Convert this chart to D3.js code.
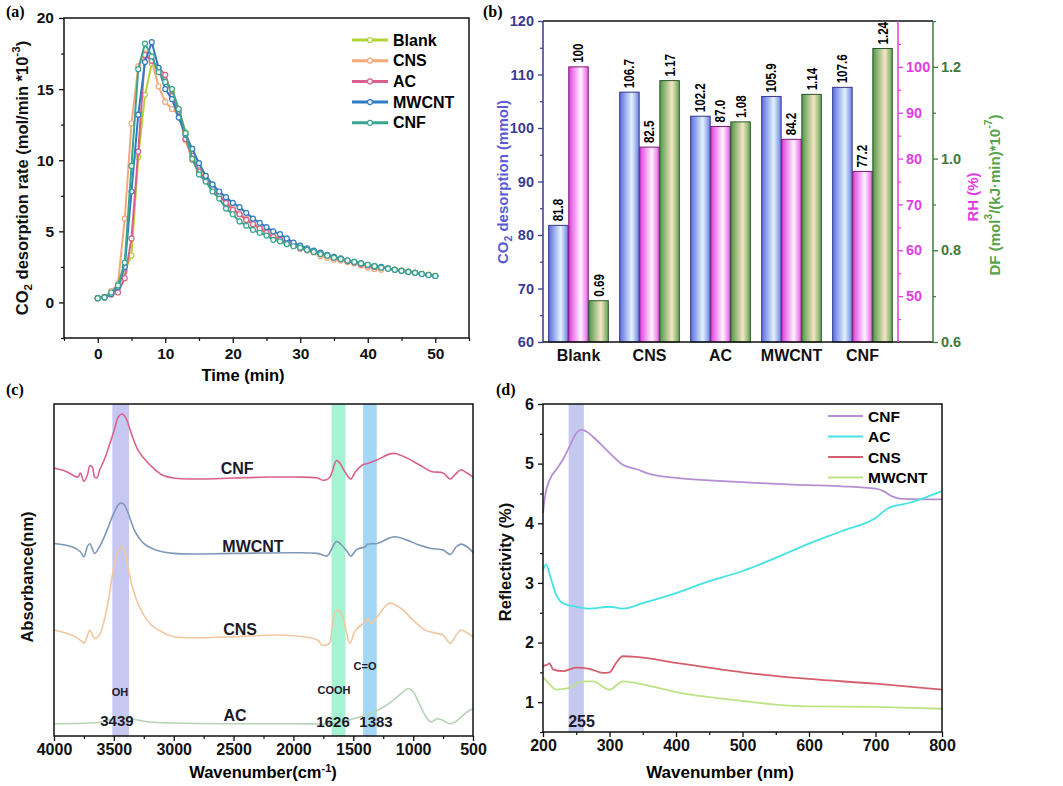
<!DOCTYPE html>
<html>
<head>
<meta charset="utf-8">
<script src="https://cdn.jsdelivr.net/npm/d3@7"></script>
<style>
  body { margin: 0; background: #fff; }
  text { font-family: "Liberation Sans", Arial, sans-serif; font-weight: bold; }
  .plabel { font-family: "Liberation Serif", "Times New Roman", serif; }
</style>
</head>
<body>
<script>
// ---------- (a) CO2 desorption rate vs time ----------
const minutes = d3.range(0, 51);
const rateBlank = [0.3, 0.4, 0.6, 1.0, 2.2, 3.3, 10.2, 14.6, 16.8, 16.3, 15.6, 14.8, 13.6, 12.0, 10.6, 9.6, 8.8, 8.2, 7.6, 7.1,
  6.6, 6.2, 5.8, 5.5, 5.2, 5.0, 4.7, 4.5, 4.3, 4.1, 3.9, 3.75, 3.6, 3.45, 3.3, 3.2, 3.05, 2.95, 2.85, 2.75,
  2.65, 2.55, 2.47, 2.4, 2.32, 2.25, 2.18, 2.1, 2.03, 1.95, 1.88];
const rateCNS = [0.3, 0.4, 0.8, 1.3, 5.9, 12.6, 16.6, 17.5, 17.0, 15.2, 14.1, 13.6, 13.2, 11.4, 10.0, 9.3, 8.7, 8.3, 7.6, 7.0,
  6.6, 6.3, 5.9, 5.6, 5.3, 5.0, 4.7, 4.5, 4.3, 4.0, 3.8, 3.65, 3.5, 3.25, 3.15, 3.0, 2.95, 2.85, 2.75, 2.6,
  2.45, 2.35, 2.3];
const rateAC = [0.3, 0.35, 0.55, 0.7, 1.7, 4.5, 10.6, 17.4, 17.0, 16.5, 16.0, 14.5, 13.4, 11.5, 10.3, 9.2, 8.6, 8.0, 7.5, 7.0,
  6.5, 6.2, 5.8, 5.5, 5.2, 4.9, 4.6, 4.4, 4.2, 4.0, 3.8, 3.7, 3.55, 3.4, 3.3, 3.15, 3.05, 2.9, 2.8, 2.7,
  2.6, 2.5, 2.45, 2.38, 2.3, 2.22, 2.15, 2.08, 2.0, 1.93, 1.86];
const rateMWCNT = [0.3, 0.35, 0.6, 1.1, 2.5, 7.8, 13.2, 16.9, 18.3, 16.5, 15.0, 14.3, 13.0, 11.8, 10.8, 9.8, 8.9, 8.3, 7.8, 7.4,
  7.0, 6.7, 6.3, 5.9, 5.6, 5.3, 5.0, 4.8, 4.5, 4.2, 4.0, 3.8, 3.65, 3.5, 3.35, 3.2, 3.1, 2.95, 2.85, 2.75,
  2.65, 2.55, 2.5, 2.4, 2.3, 2.22, 2.15, 2.08, 2.0, 1.93, 1.86];
const rateCNF = [0.3, 0.35, 0.7, 1.2, 2.8, 9.6, 16.4, 18.2, 17.3, 16.2, 15.5, 15.0, 13.6, 11.9, 10.1, 9.0, 8.5, 7.8, 7.3, 6.6,
  6.2, 5.7, 5.4, 5.1, 4.9, 4.7, 4.4, 4.3, 4.1, 3.95, 3.85, 3.7, 3.55, 3.4, 3.3, 3.15, 3.05, 2.95, 2.85, 2.75,
  2.65, 2.55, 2.45, 2.37, 2.3, 2.22, 2.15, 2.08, 2.0, 1.93, 1.86];
const rateNames = ["Blank", "CNS", "AC", "MWCNT", "CNF"];
const rateColors = ["#b4d334", "#f5a87a", "#d9608e", "#2f7cc4", "#3aa58f"];

// ---------- (b) bars ----------
const sampleNames = ["Blank", "CNS", "AC", "MWCNT", "CNF"];
const co2Desorption = [81.8, 106.7, 102.2, 105.9, 107.6];
const rhPercent = [100, 82.5, 87.0, 84.2, 77.2];
const dfValue = [0.69, 1.17, 1.08, 1.14, 1.24];

// ---------- (c) FTIR ----------
const ftirCNF = [[4000, 80.7], [3900, 79.7], [3800, 78.0], [3780, 79.2], [3750, 76.7], [3720, 78.7], [3700, 81.4], [3680, 81.0],
  [3660, 78.0], [3640, 77.8], [3620, 80.0], [3580, 83.2], [3550, 86.2], [3500, 91.8], [3460, 96.3], [3430, 97.0], [3400, 95.8],
  [3350, 90.7], [3300, 86.2], [3250, 83.7], [3200, 81.7], [3100, 78.7], [3000, 77.7], [2800, 77.4], [2500, 77.7], [2200, 78.0],
  [2000, 78.0], [1800, 77.7], [1750, 77.0], [1700, 77.7], [1680, 79.2], [1640, 83.0], [1610, 82.1], [1580, 80.2], [1540, 78.0],
  [1520, 77.4], [1480, 79.7], [1420, 81.7], [1380, 82.1], [1300, 83.2], [1200, 84.9], [1150, 85.1], [1050, 83.7], [950, 81.7],
  [850, 79.7], [750, 79.2], [690, 77.4], [650, 78.7], [600, 80.2], [550, 79.2], [500, 78.0]];
const ftirMWCNT = [[4000, 58.0], [3850, 57.0], [3780, 55.5], [3750, 54.0], [3720, 57.2], [3700, 57.9], [3660, 55.0], [3620, 57.0],
  [3580, 60.0], [3550, 62.6], [3500, 67.1], [3450, 70.1], [3420, 69.9], [3380, 67.1], [3330, 62.1], [3250, 58.0], [3150, 56.0],
  [3000, 55.0], [2500, 55.0], [2000, 55.2], [1800, 55.0], [1720, 54.2], [1700, 55.0], [1640, 58.6], [1600, 57.6], [1560, 56.0],
  [1520, 54.2], [1470, 56.2], [1400, 57.0], [1380, 57.8], [1300, 58.0], [1200, 59.6], [1150, 60.0], [1050, 59.0], [950, 57.5],
  [850, 56.5], [750, 56.0], [690, 54.7], [640, 57.0], [600, 57.8], [550, 57.0], [500, 55.3]];
const ftirCNS = [[4000, 31.9], [3850, 30.4], [3780, 28.9], [3750, 27.9], [3720, 30.4], [3700, 31.9], [3660, 29.4], [3620, 30.4],
  [3580, 34.9], [3540, 42.0], [3500, 51.0], [3460, 56.0], [3430, 57.0], [3400, 54.0], [3360, 47.0], [3300, 40.0], [3200, 33.9],
  [3100, 31.4], [3000, 29.9], [2500, 29.9], [2100, 30.4], [1800, 28.9], [1760, 27.4], [1700, 27.9], [1680, 31.9], [1640, 37.9],
  [1600, 37.0], [1560, 31.9], [1530, 27.9], [1480, 31.9], [1400, 34.4], [1380, 35.4], [1350, 33.9], [1300, 35.9], [1200, 40.0],
  [1100, 38.4], [1000, 34.9], [900, 31.9], [800, 30.9], [750, 30.4], [690, 27.9], [640, 30.4], [600, 31.9], [550, 31.1], [500, 29.9]];
const ftirAC = [[4000, 3.7], [3700, 3.9], [3600, 4.2], [3500, 5.2], [3430, 5.9], [3350, 5.2], [3200, 4.2], [3000, 3.9], [2500, 3.7],
  [2000, 3.7], [1700, 3.7], [1600, 4.2], [1500, 5.2], [1400, 6.2], [1300, 7.7], [1200, 9.8], [1100, 12.8], [1040, 14.3],
  [1000, 13.3], [950, 9.8], [900, 6.2], [850, 4.2], [800, 5.2], [750, 4.7], [700, 3.7], [650, 4.2], [600, 5.7], [550, 7.2], [500, 8.2]];
const ftirNames = ["CNF", "MWCNT", "CNS", "AC"];
const ftirColors = ["#d9638e", "#7f98b8", "#f3c6a0", "#b7d3b7"];
const ftirBands = [[3513, 3373, "#c6c8f2"], [1682, 1565, "#a6f3d4"], [1418, 1304, "#a3d7f5"]];
const ftirNotes = [["CNF", 2470, 80.5, 16], ["MWCNT", 2338, 57.2, 16], ["CNS", 2446, 32.2, 16], ["AC", 2488, 6.3, 16],
  ["OH", 3449, 13.3, 11], ["COOH", 1661, 13.9, 11], ["C=O", 1402, 21.1, 11],
  ["3439", 3474, 4.8, 15], ["1626", 1669, 4.5, 15], ["1383", 1310, 4.5, 15]];

// ---------- (d) reflectivity ----------
const reflCNF = [[200, 4.17], [203, 4.45], [210, 4.73], [220, 4.9], [230, 5.07], [240, 5.29], [250, 5.51], [258, 5.57], [265, 5.54],
  [280, 5.40], [300, 5.18], [320, 4.98], [340, 4.91], [360, 4.83], [400, 4.76], [450, 4.72], [500, 4.69], [550, 4.66], [600, 4.64],
  [650, 4.62], [700, 4.58], [712, 4.54], [725, 4.45], [740, 4.41], [800, 4.40]];
const reflAC = [[200, 3.22], [205, 3.31], [210, 3.14], [220, 2.80], [230, 2.66], [250, 2.60], [270, 2.57], [300, 2.60], [320, 2.57],
  [350, 2.66], [400, 2.83], [450, 3.03], [500, 3.20], [550, 3.42], [600, 3.66], [650, 3.87], [700, 4.09], [720, 4.26], [750, 4.34],
  [800, 4.54]];
const reflCNS = [[200, 1.61], [205, 1.62], [210, 1.65], [215, 1.55], [230, 1.52], [250, 1.58], [270, 1.56], [290, 1.49], [300, 1.50],
  [310, 1.66], [320, 1.77], [340, 1.76], [400, 1.66], [500, 1.50], [600, 1.39], [700, 1.31], [800, 1.21]];
const reflMWCNT = [[200, 1.42], [210, 1.30], [220, 1.21], [240, 1.24], [260, 1.35], [275, 1.35], [300, 1.21], [320, 1.35], [340, 1.32],
  [400, 1.17], [500, 1.02], [550, 0.96], [600, 0.93], [700, 0.92], [800, 0.89]];
const reflNames = ["CNF", "AC", "CNS", "MWCNT"];
const reflColors = ["#b58fd3", "#45e3e3", "#d4606f", "#bde386"];

const svg = d3.select("body").append("svg").attr("width", 1063).attr("height", 786);

// draws a major/minor tick axis and styles it
function addAxis(orient, scale, majors, minors, fmt, tr, color, fs, pad) {
  const g = svg.append("g").attr("transform", tr)
    .call(d3[orient](scale).tickValues(majors).tickSize(5).tickPadding(pad).tickFormat(fmt));
  g.select(".domain").remove();
  g.selectAll("line").attr("stroke", color).attr("stroke-width", 1.3);
  g.selectAll("text").attr("fill", color).style("font-size", fs + "px");
  if (minors) {
    const m = svg.append("g").attr("transform", tr)
      .call(d3[orient](scale).tickValues(minors).tickSize(3).tickFormat(""));
    m.select(".domain").remove();
    m.selectAll("line").attr("stroke", color).attr("stroke-width", 1.2);
  }
  return g;
}

function frame(x0, y0, x1, y1) {
  svg.append("rect").attr("x", x0).attr("y", y0).attr("width", x1 - x0).attr("height", y1 - y0)
    .attr("fill", "none").attr("stroke", "#111").attr("stroke-width", 1.5);
}

function panelLabel(t, x, y) {
  svg.append("text").attr("class", "plabel").attr("x", x).attr("y", y).style("font-size", "16px").text(t);
}

function vTitle(x, y, fs, color, parts) {
  const t = svg.append("text").attr("transform", `translate(${x},${y}) rotate(-90)`)
    .attr("text-anchor", "middle").attr("dominant-baseline", "central")
    .style("font-size", fs + "px").attr("fill", color);
  parts.forEach(p => {
    const s = t.append("tspan").text(p[0]);
    if (p[1] === "sub") s.attr("baseline-shift", "sub").style("font-size", (fs * 0.7) + "px");
    if (p[1] === "sup") s.attr("baseline-shift", "super").style("font-size", (fs * 0.7) + "px");
  });
  return t;
}

// ================= (a) =================
const xa = d3.scaleLinear().domain([-5, 55]).range([64, 469]);
const ya = d3.scaleLinear().domain([-2.5, 20]).range([338, 18]);

addAxis("axisBottom", xa, [0, 10, 20, 30, 40, 50], [-5, 5, 15, 25, 35, 45, 55], d3.format("d"), "translate(0,338)", "#111", 15.5, 5);
addAxis("axisLeft", ya, [0, 5, 10, 15, 20], [-2.5, 2.5, 7.5, 12.5, 17.5], d3.format("d"), "translate(64,0)", "#111", 15.5, 5);

const rateValues = [rateBlank, rateCNS, rateAC, rateMWCNT, rateCNF];
const lineA = d3.line().x(d => xa(d[0])).y(d => ya(d[1]));
rateValues.forEach((vals, i) => {
  const pts = vals.map((v, k) => [minutes[k], v]);
  svg.append("path").datum(pts).attr("d", lineA).attr("fill", "none")
    .attr("stroke", rateColors[i]).attr("stroke-width", 2);
  svg.append("g").selectAll("circle").data(pts).join("circle")
    .attr("cx", d => xa(d[0])).attr("cy", d => ya(d[1])).attr("r", 2.5)
    .attr("fill", "#eef6f6").attr("stroke", rateColors[i]).attr("stroke-width", 1.2);
});
frame(64, 18, 469, 338);

rateNames.forEach((n, i) => {
  const y = 40 + i * 20.7;
  svg.append("line").attr("x1", 352).attr("x2", 388).attr("y1", y).attr("y2", y)
    .attr("stroke", rateColors[i]).attr("stroke-width", 3);
  svg.append("circle").attr("cx", 370).attr("cy", y).attr("r", 2.5)
    .attr("fill", "#eef6f6").attr("stroke", rateColors[i]).attr("stroke-width", 1.2);
  svg.append("text").attr("x", 393).attr("y", y).attr("dominant-baseline", "central")
    .style("font-size", "16px").text(n);
});
svg.append("text").attr("x", 243).attr("y", 381).attr("text-anchor", "middle").style("font-size", "16.5px").text("Time (min)");
vTitle(22, 178, 16.5, "#111", [["CO"], ["2", "sub"], [" desorption rate (mol/min *10"], ["-3", "sup"], [")"]]);
panelLabel("(a)", 6, 17);

// ================= (b) =================
const bx = d3.scaleBand().domain(sampleNames).range([543, 898]).paddingInner(0.16).paddingOuter(0.08);
const bsub = d3.scaleBand().domain([0, 1, 2]).range([0, bx.bandwidth()]).paddingInner(0.03);
const yCO2 = d3.scaleLinear().domain([60, 120]).range([342, 21]);
const yRH = d3.scaleLinear().domain([40, 110]).range([342, 21]);
const yDF = d3.scaleLinear().domain([0.6, 1.3]).range([342, 21]);

const defs = svg.append("defs");
const grads = [["gBlue", "#5a6ce0", "#e3f4fc", "#6c7fe4"], ["gPink", "#e03ee0", "#fff3ff", "#e45ae4"], ["gGreen", "#4e9a45", "#f7e5c6", "#5ea651"]];
grads.forEach(g => {
  const lg = defs.append("linearGradient").attr("id", g[0]).attr("x1", "0").attr("x2", "1").attr("y1", "0").attr("y2", "0");
  lg.append("stop").attr("offset", "0").attr("stop-color", g[1]);
  lg.append("stop").attr("offset", "0.62").attr("stop-color", g[2]);
  lg.append("stop").attr("offset", "1").attr("stop-color", g[3]);
});

const barSets = [
  { vals: co2Desorption, y: yCO2, fill: "url(#gBlue)", stroke: "#34348c", fmt: d3.format(".1f") },
  { vals: rhPercent, y: yRH, fill: "url(#gPink)", stroke: "#7a1a70", fmt: v => v === 100 ? "100" : d3.format(".1f")(v) },
  { vals: dfValue, y: yDF, fill: "url(#gGreen)", stroke: "#2c552c", fmt: d3.format(".2f") }
];
barSets.forEach((s, j) => {
  const g = svg.append("g");
  g.selectAll("rect").data(s.vals).join("rect")
    .attr("x", (d, i) => bx(sampleNames[i]) + bsub(j)).attr("width", bsub.bandwidth())
    .attr("y", d => s.y(d)).attr("height", d => 342 - s.y(d))
    .attr("fill", s.fill).attr("stroke", s.stroke).attr("stroke-width", 1);
  // labels in the reference are set in a narrow face
  g.selectAll("text").data(s.vals).join("text")
    .attr("transform", (d, i) => `translate(${bx(sampleNames[i]) + bsub(j) + bsub.bandwidth() / 2},${s.y(d) - 4}) rotate(-90) scale(0.8,1)`)
    .attr("dominant-baseline", "central").style("font-size", "14.5px").text(d => s.fmt(d));
});

const bxAxis = svg.append("g").attr("transform", "translate(0,342)")
  .call(d3.axisBottom(bx).tickSize(0).tickPadding(8));
bxAxis.select(".domain").remove();
bxAxis.selectAll("text").attr("fill", "#111").style("font-size", "16px");

addAxis("axisLeft", yCO2, d3.range(60, 121, 10), d3.range(65, 120, 10), d3.format("d"), "translate(543,0)", "#3b3a8e", 14.5, 4);
addAxis("axisRight", yRH, d3.range(50, 101, 10), d3.range(45, 110, 10), d3.format("d"), "translate(898,0)", "#e23de2", 14.5, 3);
addAxis("axisRight", yDF, [0.6, 0.8, 1.0, 1.2], [0.7, 0.9, 1.1, 1.3], d3.format(".1f"), "translate(933,0)", "#3d7a3d", 14.5, 3);

svg.append("line").attr("x1", 543).attr("x2", 933).attr("y1", 21).attr("y2", 21).attr("stroke", "#111").attr("stroke-width", 1.5);
svg.append("line").attr("x1", 543).attr("x2", 933).attr("y1", 342).attr("y2", 342).attr("stroke", "#111").attr("stroke-width", 1.5);
svg.append("line").attr("x1", 543).attr("x2", 543).attr("y1", 21).attr("y2", 342).attr("stroke", "#3b3a8e").attr("stroke-width", 1.5);
svg.append("line").attr("x1", 898).attr("x2", 898).attr("y1", 21).attr("y2", 342).attr("stroke", "#e23de2").attr("stroke-width", 1.5);
svg.append("line").attr("x1", 933).attr("x2", 933).attr("y1", 21).attr("y2", 342).attr("stroke", "#3d7a3d").attr("stroke-width", 1.5);

vTitle(502, 182, 15, "#5b5bd6", [["CO"], ["2", "sub"], [" desorption (mmol)"]]);
vTitle(972, 197, 15, "#e23de2", [["RH (%)"]]);
vTitle(994, 195, 15, "#57a347", [["DF (mol"], ["3", "sup"], ["/(kJ·min)*10"], ["-7", "sup"], [")"]]);
panelLabel("(b)", 483, 17);

// ================= (c) =================
const xc = d3.scaleLinear().domain([4000, 500]).range([54, 473]);
const yc = d3.scaleLinear().domain([0, 100]).range([736, 404]);
ftirBands.forEach(b => {
  svg.append("rect").attr("x", xc(b[0])).attr("width", xc(b[1]) - xc(b[0]))
    .attr("y", 404).attr("height", 332).attr("fill", b[2]);
});
const lineC = d3.line().x(d => xc(d[0])).y(d => yc(d[1])).curve(d3.curveCatmullRom.alpha(0.5));
[ftirCNF, ftirMWCNT, ftirCNS, ftirAC].forEach((s, i) => {
  svg.append("path").datum(s).attr("d", lineC).attr("fill", "none")
    .attr("stroke", ftirColors[i]).attr("stroke-width", 1.6);
});
ftirNotes.forEach(n => {
  svg.append("text").attr("x", xc(n[1])).attr("y", yc(n[2])).attr("text-anchor", "middle")
    .attr("dominant-baseline", "central").style("font-size", n[3] + "px").attr("fill", "#1a1a2a").text(n[0]);
});
addAxis("axisBottom", xc, d3.range(4000, 499, -500), d3.range(3750, 500, -500), d3.format("d"), "translate(0,736)", "#111", 16, 3);
frame(54, 404, 473, 736);
const wc = svg.append("text").attr("x", 263).attr("y", 778).attr("text-anchor", "middle").style("font-size", "16.5px");
wc.append("tspan").text("Wavenumber(cm");
wc.append("tspan").text("-1").attr("baseline-shift", "super").style("font-size", "11px");
wc.append("tspan").text(")");
vTitle(27, 577, 16.5, "#111", [["Absorbance(nm)"]]);
panelLabel("(c)", 6, 395);

// ================= (d) =================
const xd = d3.scaleLinear().domain([200, 800]).range([543, 942]);
const yd = d3.scaleLinear().domain([0.5, 6]).range([732, 404]);
svg.append("rect").attr("x", xd(238.5)).attr("width", xd(261.5) - xd(238.5))
  .attr("y", 404).attr("height", 328).attr("fill", "#c6c9ef");
const lineD = d3.line().x(d => xd(d[0])).y(d => yd(d[1])).curve(d3.curveMonotoneX);
[reflCNF, reflAC, reflCNS, reflMWCNT].forEach((s, i) => {
  svg.append("path").datum(s).attr("d", lineD).attr("fill", "none")
    .attr("stroke", reflColors[i]).attr("stroke-width", 1.8);
});
addAxis("axisBottom", xd, d3.range(200, 801, 100), d3.range(250, 800, 100), d3.format("d"), "translate(0,732)", "#111", 16, 3);
addAxis("axisLeft", yd, [1, 2, 3, 4, 5, 6], [0.5, 1.5, 2.5, 3.5, 4.5, 5.5], d3.format("d"), "translate(543,0)", "#111", 16, 4);
frame(543, 404, 942, 732);
svg.append("text").attr("x", xd(258)).attr("y", yd(0.68)).attr("text-anchor", "middle")
  .attr("dominant-baseline", "central").style("font-size", "16px").attr("fill", "#1a1a2a").text("255");
reflNames.forEach((n, i) => {
  const y = 416 + i * 20.5;
  svg.append("line").attr("x1", 828).attr("x2", 863).attr("y1", y).attr("y2", y)
    .attr("stroke", reflColors[i]).attr("stroke-width", 2);
  svg.append("text").attr("x", 868).attr("y", y).attr("dominant-baseline", "central")
    .style("font-size", "15.5px").text(n);
});
svg.append("text").attr("x", 720).attr("y", 778).attr("text-anchor", "middle").style("font-size", "17px").text("Wavenumber (nm)");
vTitle(505, 562, 16.5, "#111", [["Reflectivity (%)"]]);
panelLabel("(d)", 496, 395);
</script>
</body>
</html>
